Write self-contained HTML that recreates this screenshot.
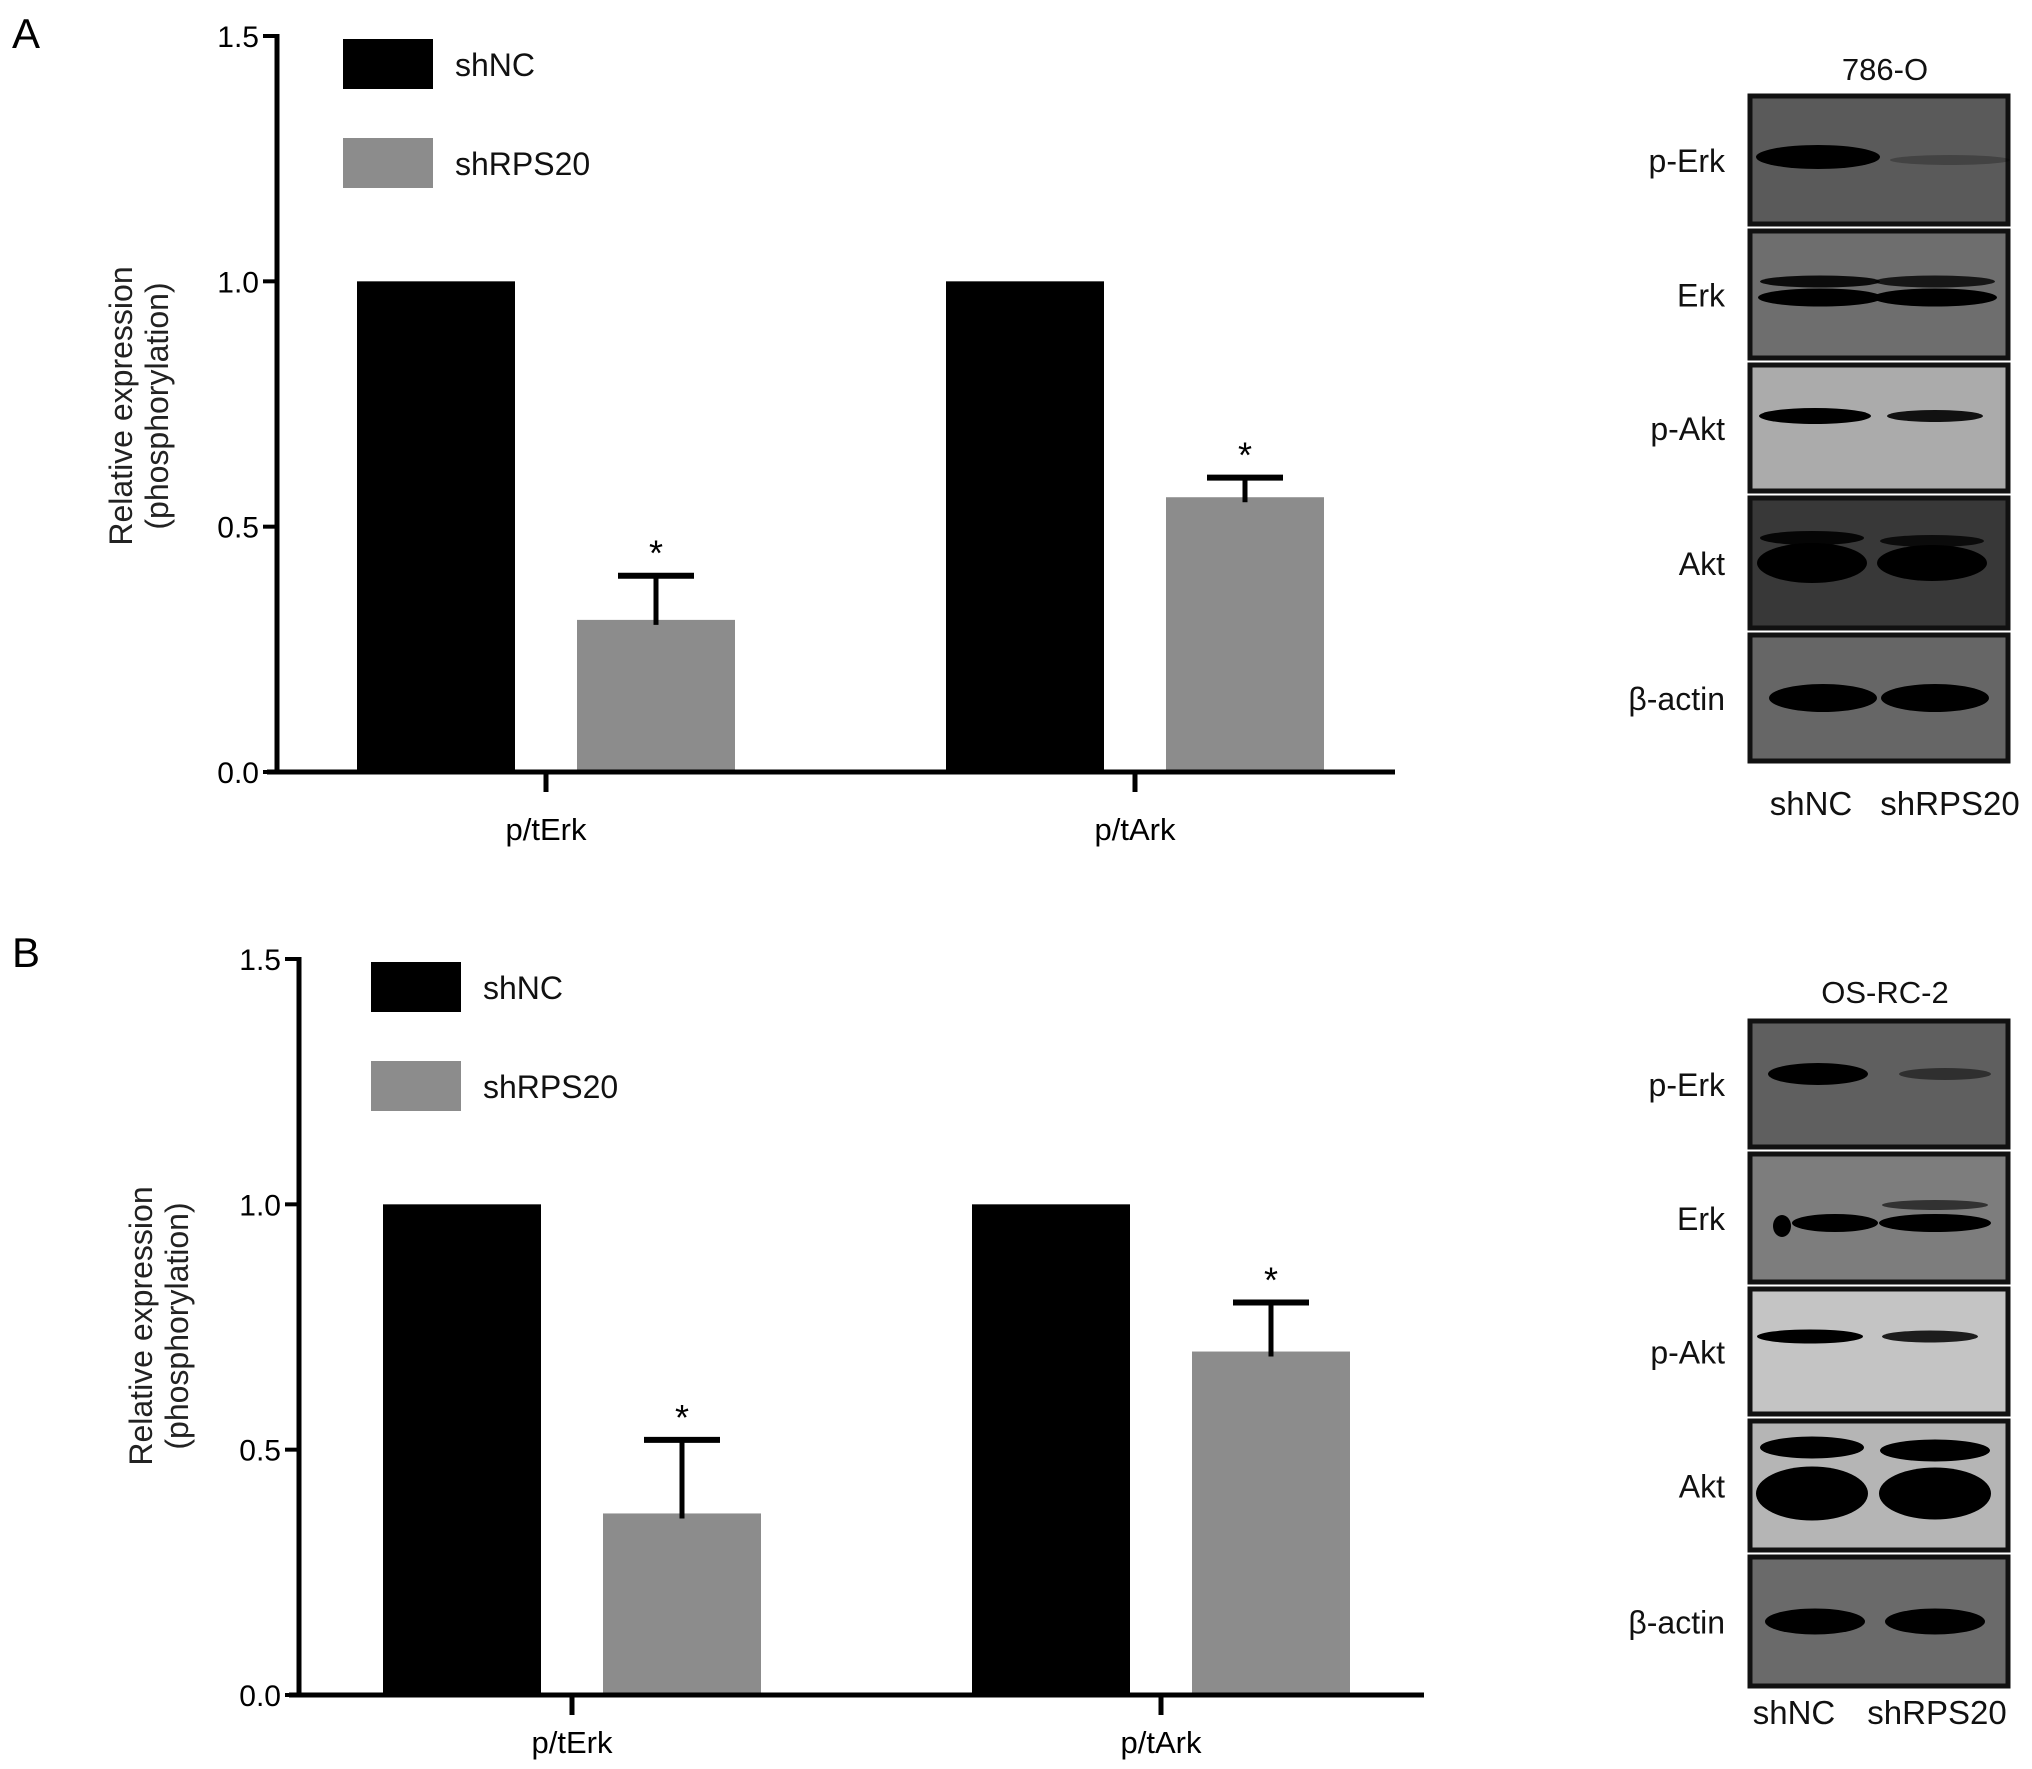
<!DOCTYPE html>
<html><head><meta charset="utf-8"><style>
html,body{margin:0;padding:0;background:#fff;}
svg{display:block;font-family:"Liberation Sans",sans-serif;}
</style></head><body>
<svg id="fig" width="2032" height="1769" viewBox="0 0 2032 1769" xmlns="http://www.w3.org/2000/svg"></svg>
<script>
const categories = ["p/tErk", "p/tArk"];
const seriesNames = ["shNC", "shRPS20"];
const aNC = [1.0, 1.0];
const aRPS = [0.31, 0.56];
const aRPSErr = [0.09, 0.04];
const bNC = [1.0, 1.0];
const bRPS = [0.37, 0.70];
const bRPSErr = [0.15, 0.10];
const yTicks = [0, 0.5, 1.0, 1.5];
const yTickLabels = ["0.0", "0.5", "1.0", "1.5"];
const blotRows = ["p-Erk", "Erk", "p-Akt", "Akt", "β-actin"];

const NS = "http://www.w3.org/2000/svg";
const svg = document.getElementById("fig");
function el(tag, attrs, parent) {
  const e = document.createElementNS(NS, tag);
  for (const k in attrs) e.setAttribute(k, attrs[k]);
  (parent || svg).appendChild(e);
  return e;
}
function txt(s, attrs, parent) { const t = el("text", attrs, parent); t.textContent = s; return t; }

function drawChart(cfg) {
  const g = el("g", {});
  
  
  const y = v => cfg.y0 - (v / 1.5) * (cfg.y0 - cfg.y15);
  const L = txt(cfg.letter, {x: cfg.letterX, y: cfg.letterY, "font-size": 42, fill: "#000"}, g);
  
  
  categories.forEach((c, i) => {
    const cx = cfg.groupCenters[i];
    const b1 = el("rect", {x: cx - cfg.gap/2 - cfg.barW, y: y(cfg.nc[i]), width: cfg.barW, height: cfg.y0 - y(cfg.nc[i]), fill: "#000"}, g);
    
    
    const x2 = cx + cfg.gap/2;
    const b2 = el("rect", {x: x2, y: y(cfg.rps[i]), width: cfg.barW, height: cfg.y0 - y(cfg.rps[i]), fill: "#8c8c8c"}, g);
    
    
    const ex = x2 + cfg.barW/2;
    const top = y(cfg.rps[i] + cfg.err[i]);
    const e1 = el("line", {x1: ex, x2: ex, y1: y(cfg.rps[i]) + 5, y2: top, stroke: "#000", "stroke-width": 5}, g);
    
    
    el("line", {x1: ex - 38, x2: ex + 38, y1: top, y2: top, stroke: "#000", "stroke-width": 6}, g);
    const st = txt("*", {x: ex, y: top - 10, "font-size": 36, "text-anchor": "middle", fill: "#000"}, g);
    
    
    el("line", {x1: cx, x2: cx, y1: cfg.y0, y2: cfg.y0 + 20, stroke: "#000", "stroke-width": 5}, g);
    const cl = txt(c, {x: cx, y: cfg.catY, "font-size": 31, "text-anchor": "middle", fill: "#000"}, g);
    
    
  });
  const ya = el("line", {x1: cfg.ax, x2: cfg.ax, y1: cfg.y15 - 2, y2: cfg.y0 + 2, stroke: "#000", "stroke-width": 5}, g);
  
  
  const xa = el("line", {x1: cfg.ax - 10, x2: cfg.axEnd, y1: cfg.y0, y2: cfg.y0, stroke: "#000", "stroke-width": 5}, g);
  
  
  yTicks.forEach((t, i) => {
    el("line", {x1: cfg.ax - 14, x2: cfg.ax, y1: y(t), y2: y(t), stroke: "#000", "stroke-width": 4}, g);
    const tl = txt(yTickLabels[i], {x: cfg.ax - 18, y: y(t) + 11, "font-size": 30, "text-anchor": "end", fill: "#000"}, g);
    
    
  });
  const yt = txt("", {transform: `translate(${cfg.ylx},${cfg.yly}) rotate(-90)`, "font-size": 32, "text-anchor": "middle", fill: "#222"}, g);
  
  
  const s1 = el("tspan", {x: 0, dy: -8}, yt); s1.textContent = "Relative expression";
  const s2 = el("tspan", {x: 0, dy: 36}, yt); s2.textContent = "(phosphorylation)";
  [["#000", seriesNames[0], cfg.legY1], ["#8c8c8c", seriesNames[1], cfg.legY2]].forEach(([col, name, ly]) => {
    const r = el("rect", {x: cfg.legX, y: ly, width: 90, height: 50, fill: col}, g);
    
    
    const lt = txt(name, {x: cfg.legX + 112, y: ly + 37, "font-size": 32, fill: "#111"}, g);
    
    
  });
}

drawChart({name: "chart-a", letter: "A", letterX: 12, letterY: 48, ax: 277, axEnd: 1395, y0: 772, y15: 36,
  groupCenters: [546, 1135], barW: 158, gap: 62, nc: aNC, rps: aRPS, err: aRPSErr, catY: 840,
  ylx: 140, yly: 406, legX: 343, legY1: 39, legY2: 138});
drawChart({name: "chart-b", letter: "B", letterX: 12, letterY: 967, ax: 299, axEnd: 1424, y0: 1695, y15: 959,
  groupCenters: [572, 1161], barW: 158, gap: 62, nc: bNC, rps: bRPS, err: bRPSErr, catY: 1753,
  ylx: 160, yly: 1326, legX: 371, legY1: 962, legY2: 1061});

function drawBlot(cfg) {
  const g = el("g", {});
  
  
  const t = txt(cfg.title, {x: 1885, y: cfg.titleY, "font-size": 31, "text-anchor": "middle", fill: "#111"}, g);
  
  
  blotRows.forEach((r, i) => {
    const [y1, y2] = cfg.rows[i];
    const box = el("rect", {x: 1750, y: y1 + 2, width: 258, height: y2 - y1 - 4, fill: cfg.bg[i], stroke: "#111", "stroke-width": 5}, g);
    
    
    const cy = (y1 + y2) / 2;
    cfg.bands[i].forEach(b => {
      el("ellipse", {cx: b[0], cy: cy + b[1], rx: b[2], ry: b[3], fill: "#000", opacity: b[4]}, g);
    });
    const lab = txt(r, {x: 1725, y: cy + 12, "font-size": 32, "text-anchor": "end", fill: "#111"}, g);
    
    
  });
  const l1 = txt("shNC", {x: cfg.nx, y: cfg.labY, "font-size": 33, "text-anchor": "middle", fill: "#111"}, g);
  
  
  const l2 = txt("shRPS20", {x: cfg.rx, y: cfg.labY, "font-size": 33, "text-anchor": "middle", fill: "#111"}, g);
  
  
}
drawBlot({name: "blot-786-o", title: "786-O", titleY: 80, labY: 815, nx: 1811, rx: 1950,
  rows: [[94, 226], [229, 360], [363, 493], [496, 630], [633, 763]],
  bg: ["#5a5a5a", "#6e6e6e", "#ababab", "#383838", "#666"],
  bands: [[[1818, -3, 62, 12, 1], [1950, 0, 60, 5, 0.25]],
          [[1820, -13, 60, 6, 0.9], [1820, 3, 62, 9, 1], [1935, -13, 60, 6, 0.8], [1935, 3, 62, 9, 1]],
          [[1815, -12, 56, 8, 1], [1935, -12, 48, 6, 0.9]],
          [[1812, -25, 52, 7, 0.9], [1812, 0, 55, 20, 1], [1932, -22, 52, 6, 0.8], [1932, 0, 55, 18, 1]],
          [[1823, 0, 54, 14, 1], [1935, 0, 54, 14, 1]]]});
drawBlot({name: "blot-os-rc-2", title: "OS-RC-2", titleY: 1003, labY: 1724, nx: 1794, rx: 1937,
  rows: [[1019, 1149], [1152, 1284], [1287, 1416], [1419, 1552], [1555, 1688]],
  bg: ["#5f5f5f", "#7d7d7d", "#c4c4c4", "#b5b5b5", "#6a6a6a"],
  bands: [[[1818, -10, 50, 11, 1], [1945, -10, 46, 6, 0.5]],
          [[1835, 5, 43, 9, 1], [1782, 8, 9, 11, 1], [1935, 5, 56, 9, 1], [1935, -13, 53, 5, 0.6]],
          [[1810, -15, 53, 7, 1], [1930, -15, 48, 6, 0.85]],
          [[1812, -38, 52, 11, 1], [1812, 8, 56, 27, 1], [1935, -35, 55, 11, 1], [1935, 8, 56, 26, 1]],
          [[1815, 0, 50, 13, 1], [1935, 0, 50, 13, 1]]]});
</script>
</body></html>
